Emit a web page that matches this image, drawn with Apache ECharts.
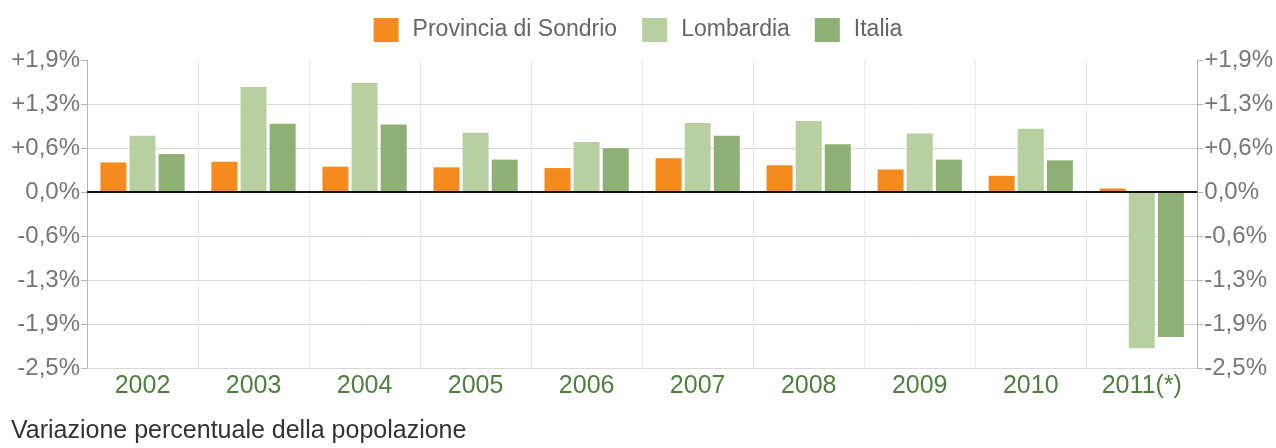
<!DOCTYPE html>
<html>
<head>
<meta charset="utf-8">
<script src="https://cdn.jsdelivr.net/npm/echarts@6/dist/echarts.min.js"></script>
<style>
  html, body { margin: 0; padding: 0; background: #ffffff; }
  #chart { width: 1276px; height: 448px; }
</style>
</head>
<body>
<div id="chart"></div>
<script>
// Annual population change (%), by territory
const years = ['2002', '2003', '2004', '2005', '2006', '2007', '2008', '2009', '2010', '2011(*)'];
const sondrio   = [0.42, 0.43, 0.36, 0.35, 0.34, 0.48, 0.38, 0.32, 0.23, 0.05];
const lombardia = [0.80, 1.49, 1.55, 0.84, 0.71, 0.98, 1.01, 0.83, 0.90, -2.22];
const italia    = [0.54, 0.97, 0.96, 0.46, 0.62, 0.80, 0.68, 0.46, 0.45, -2.06];

// Value axis: eight ticks, one every 0.625 points
const yMin = -2.5;
const yMax = 1.875;
const yStep = 0.625;
const yTickLabels = ['+1,9%', '+1,3%', '+0,6%', '0,0%', '-0,6%', '-1,3%', '-1,9%', '-2,5%'];

const seriesNames = ['Provincia di Sondrio', 'Lombardia', 'Italia'];
const seriesColors = ['#F58A1F', '#B8CFA0', '#8FB074'];

const FONT = 'Liberation Sans, Arial, sans-serif';

function tickLabel(v) {
  const i = Math.round((yMax - v) / yStep);
  return yTickLabels[i] !== undefined ? yTickLabels[i] : '';
}

function valueAxis(position) {
  return {
    type: 'value',
    position: position,
    min: yMin,
    max: yMax,
    interval: yStep,
    axisLine: { show: true, lineStyle: { color: '#b5b5b5', width: 1 } },
    axisTick: { show: true, length: 6, lineStyle: { color: '#b5b5b5' } },
    axisLabel: {
      formatter: tickLabel,
      color: '#777777',
      fontFamily: FONT,
      fontSize: 24,
      margin: 7
    },
    splitLine: {
      show: position === 'left',
      lineStyle: {
        // bottom line through the one below the top; the top edge stays open
        color: ['#d9d9d9', '#d9d9d9', '#d9d9d9', '#d9d9d9', '#d9d9d9', '#d9d9d9', '#d9d9d9', 'rgba(0,0,0,0)'],
        width: 1
      }
    }
  };
}

const chart = echarts.init(document.getElementById('chart'), null, { renderer: 'canvas' });

const seriesData = [sondrio, lombardia, italia];

chart.setOption({
  backgroundColor: '#ffffff',
  animation: false,
  title: {
    text: 'Variazione percentuale della popolazione',
    left: 6,
    top: 414,
    textStyle: { color: '#333333', fontFamily: FONT, fontSize: 25, fontWeight: 'normal' }
  },
  legend: {
    data: seriesNames,
    left: 'center',
    top: 13,
    itemWidth: 25,
    itemHeight: 24,
    itemGap: 25,
    icon: 'rect',
    textStyle: { color: '#666666', fontFamily: FONT, fontSize: 23, padding: [0, 0, 0, 9] }
  },
  grid: { left: 87, right: 77, top: 60, bottom: 80 },
  xAxis: {
    type: 'category',
    data: years,
    boundaryGap: true,
    axisLine: { show: true, lineStyle: { color: '#b5b5b5', type: 'dashed', width: 1 } },
    axisTick: { show: false },
    axisLabel: {
      color: '#4F7F3F',
      fontFamily: FONT,
      fontSize: 25,
      margin: 6
    },
    splitLine: { show: true, interval: 0, lineStyle: { color: '#cfcfcf', type: 'dotted', width: 1 } }
  },
  yAxis: [valueAxis('left'), valueAxis('right')],
  series: seriesNames.map(function (name, k) {
    const s = {
      name: name,
      type: 'bar',
      yAxisIndex: 0,
      data: seriesData[k],
      barWidth: 26,
      barGap: '12%',
      itemStyle: { color: seriesColors[k] }
    };
    if (k === 0) {
      // zero baseline
      s.markLine = {
        silent: true,
        symbol: 'none',
        label: { show: false },
        lineStyle: { color: '#111111', width: 2, type: 'solid' },
        data: [{ yAxis: 0 }]
      };
      s.z = 3;
    }
    return s;
  })
});
</script>
</body>
</html>
